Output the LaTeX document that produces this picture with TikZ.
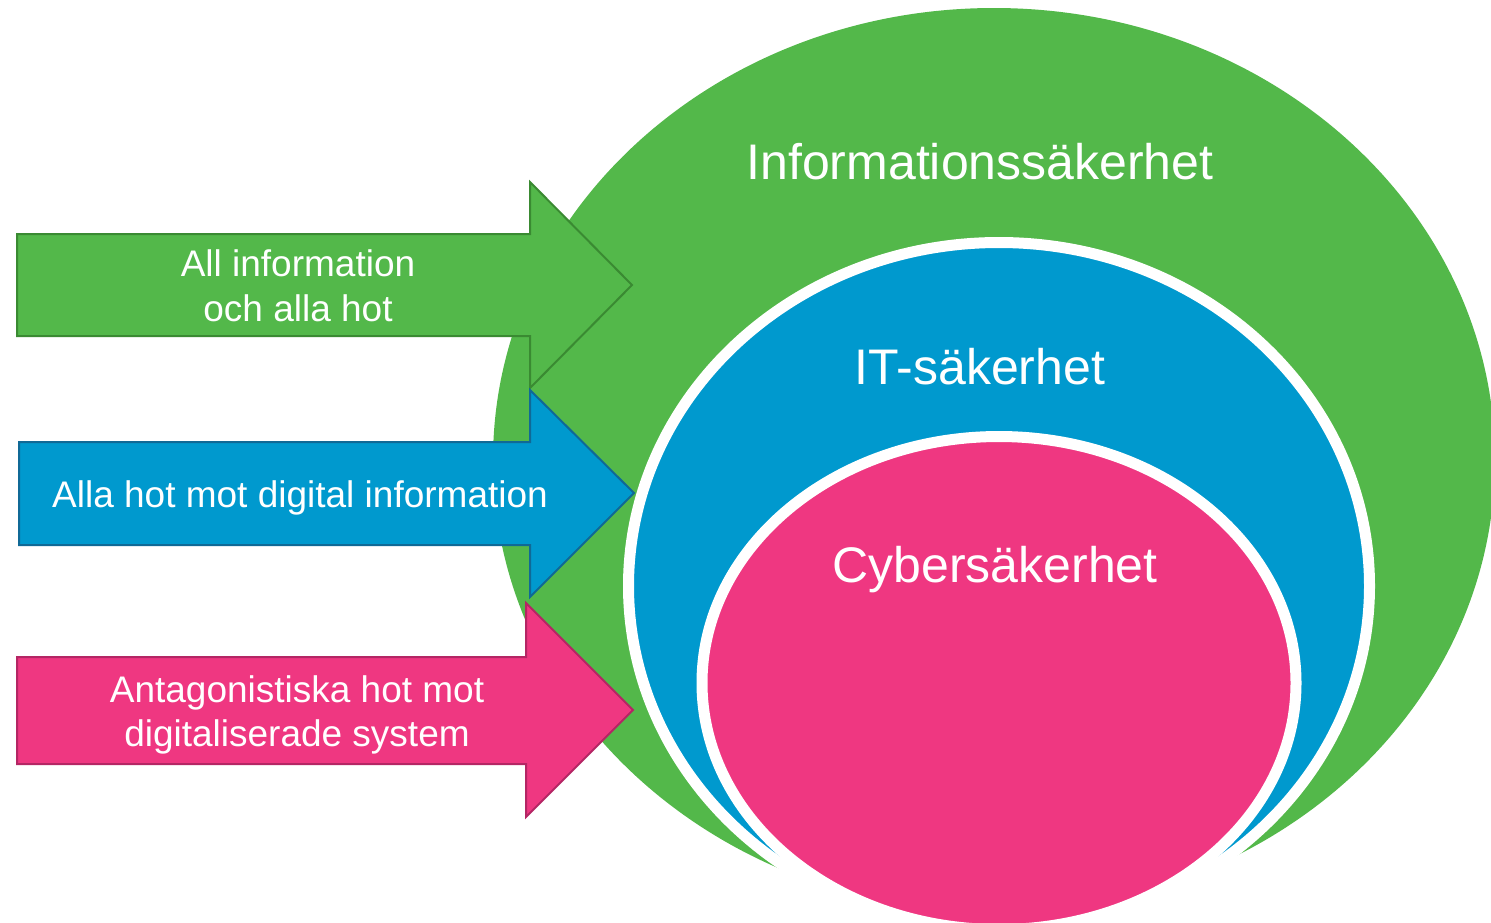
\documentclass[tikz,border=0pt]{standalone}
\usepackage{fontspec}
\setmainfont{Liberation Sans}
\definecolor{cgreen}{RGB}{83,184,74}
\definecolor{cgreenD}{RGB}{58,138,50}
\definecolor{cblue}{RGB}{0,153,206}
\definecolor{cblueD}{RGB}{16,105,150}
\definecolor{cpink}{RGB}{239,55,129}
\definecolor{cpinkD}{RGB}{180,38,100}
\tikzset{
  bigtext/.style={text=white, font=\fontsize{50}{60}\selectfont, inner sep=0pt},
  arrtext/.style={text=white, font=\fontsize{37}{44.5}\selectfont, align=center, inner sep=0pt},
  arrowshape/.style={line width=2pt, line join=miter},
  ringedge/.style={draw=white, line width=11pt}
}
\begin{document}
\begin{tikzpicture}[x=1pt,y=-1pt]
\useasboundingbox (0,0) rectangle (1491,922);
\begin{scope}
\clip (0,0) rectangle (1491,922);
\fill[cgreen] (994,460) ellipse [x radius=501, y radius=452];
\filldraw[fill=cblue, ringedge] (999,586) ellipse [x radius=370.5, y radius=343.5];
\filldraw[fill=cpink, ringedge] (999,683) ellipse [x radius=297, y radius=246.5];
\end{scope}
% arrows
\filldraw[arrowshape, fill=cgreen, draw=cgreenD]
  (17,234) -- (530,234) -- (530,182) -- (632,285) -- (530,388) -- (530,336) -- (17,336) -- cycle;
\filldraw[arrowshape, fill=cblue, draw=cblueD]
  (19,442) -- (530,442) -- (530,390) -- (634,493) -- (530,597) -- (530,545) -- (19,545) -- cycle;
\filldraw[arrowshape, fill=cpink, draw=cpinkD]
  (17,657) -- (526,657) -- (526,603) -- (633,710) -- (526,817) -- (526,764) -- (17,764) -- cycle;
% labels
\node[bigtext] (info) at (980,162) {Informationssäkerhet};
\node[bigtext] (it) at (980,367) {IT-säkerhet};
\node[bigtext] (cyber) at (995,570) {Cybersäkerhet};
\node[arrtext] (a1) at (298,286) {All information\\och alla hot};
\node[arrtext] (a2) at (300,498) {Alla hot mot digital information};
\node[arrtext] (a3) at (297,715) {Antagonistiska hot mot\\digitaliserade system};
\end{tikzpicture}
\end{document}
